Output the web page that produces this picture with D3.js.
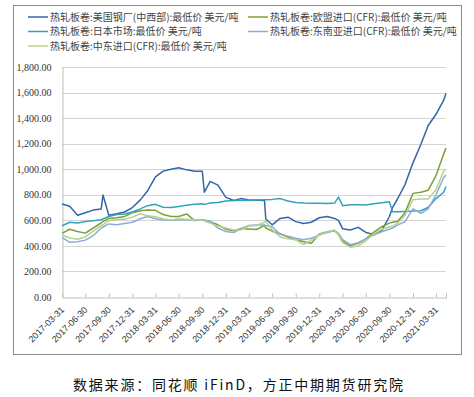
<!DOCTYPE html>
<html>
<head>
<meta charset="utf-8">
<script src="https://cdn.jsdelivr.net/npm/d3@7"></script>
<style>
  body { margin: 0; background: #fff; }
  svg { display: block; }
</style>
</head>
<body>
<svg id="chart" width="474" height="397"></svg>
<script>
// dates (month ends plus a few in-between points where the lines jump)
const dates = [
  "2017-03-31","2017-04-30","2017-05-31","2017-06-30","2017-07-31","2017-08-31","2017-09-07","2017-09-30",
  "2017-10-31","2017-11-30","2017-12-31","2018-01-31","2018-02-28","2018-03-31","2018-04-30","2018-05-31",
  "2018-06-30","2018-07-31","2018-08-31","2018-09-30","2018-10-08","2018-10-31","2018-11-30","2018-12-31",
  "2019-01-31","2019-02-28","2019-03-31","2019-04-30","2019-05-31","2019-06-05","2019-06-30","2019-07-31",
  "2019-08-31","2019-09-30","2019-10-31","2019-11-30","2019-12-31","2020-01-31","2020-02-29","2020-03-15",
  "2020-03-31","2020-04-30","2020-05-31","2020-06-30","2020-07-31","2020-08-31","2020-09-30","2020-10-12",
  "2020-10-31","2020-11-30","2020-12-31","2021-01-31","2021-02-28","2021-03-31","2021-04-30","2021-05-09"
];

const usMidwest = [
  728,710,640,660,680,688,798,640,
  652,665,700,760,830,940,985,1000,
  1012,995,985,985,820,905,875,780,
  755,770,760,758,755,610,565,615,
  625,590,575,585,620,630,615,600,
  535,525,545,505,490,520,630,700,
  765,880,1050,1195,1340,1430,1540,1595
];
const euImport = [
  498,530,512,500,540,580,590,615,
  620,630,660,675,680,678,645,630,
  630,650,598,605,600,590,565,530,
  518,537,532,528,560,540,515,495,
  470,448,433,420,493,510,517,490,
  440,400,420,455,508,550,578,585,
  590,660,811,820,835,950,1120,1165
];
const japan = [
  558,585,580,590,597,605,610,630,
  645,650,665,690,715,725,703,700,
  708,718,725,730,725,735,740,752,
  755,757,758,760,762,762,764,770,
  752,740,735,733,733,732,735,782,
  715,722,722,720,730,738,745,668,
  668,670,673,675,700,770,820,865
];
const seAsia = [
  467,428,433,445,480,540,548,572,
  565,576,585,612,630,612,603,603,
  603,603,603,603,600,592,540,512,
  505,535,560,563,563,560,550,490,
  475,460,448,460,485,505,522,498,
  450,410,425,455,485,510,530,540,
  562,590,690,655,690,800,935,955
];
const middleEast = [
  485,462,452,470,515,560,565,597,
  608,608,625,652,635,628,612,603,
  612,608,605,600,595,578,555,540,
  525,525,555,560,585,592,525,470,
  455,448,410,445,485,512,522,485,
  425,390,400,440,495,530,548,555,
  575,640,762,767,767,840,985,1000
];

const seriesNames = [
  "热轧板卷:美国钢厂(中西部):最低价 美元/吨",
  "热轧板卷:欧盟进口(CFR):最低价 美元/吨",
  "热轧板卷:日本市场:最低价 美元/吨",
  "热轧板卷:东南亚进口(CFR):最低价 美元/吨",
  "热轧板卷:中东进口(CFR):最低价 美元/吨"
];
const seriesValues = [usMidwest, euImport, japan, seAsia, middleEast];
const seriesColors = ["#3565a8", "#7aa03c", "#31a2bc", "#8eaadb", "#b4d38b"];

const tickDates = [
  "2017-03-31","2017-06-30","2017-09-30","2017-12-31","2018-03-31","2018-06-30","2018-09-30","2018-12-31",
  "2019-03-31","2019-06-30","2019-09-30","2019-12-31","2020-03-31","2020-06-30","2020-09-30","2020-12-31","2021-03-31"
];
const yTicks = [0, 200, 400, 600, 800, 1000, 1200, 1400, 1600, 1800];

const parse = d3.timeParse("%Y-%m-%d");
const svg = d3.select("#chart");

// outer frame
svg.append("rect")
  .attr("x", 13.5).attr("y", 5.5)
  .attr("width", 448).attr("height", 349)
  .attr("fill", "none").attr("stroke", "#8c8c8c");

const x = d3.scaleTime()
  .domain([parse("2017-03-31"), parse("2021-05-09")])
  .range([62, 446]);
const y = d3.scaleLinear()
  .domain([0, 1800])
  .range([297, 67]);

// grid
svg.append("g")
  .selectAll("line")
  .data(yTicks.filter(d => d > 0))
  .join("line")
  .attr("x1", 62).attr("x2", 446)
  .attr("y1", d => Math.round(y(d)) + 0.5)
  .attr("y2", d => Math.round(y(d)) + 0.5)
  .attr("stroke", "#d4d4d4");

// y axis
const yAxis = svg.append("g")
  .attr("transform", "translate(62.5,0)")
  .call(d3.axisLeft(y).tickValues(yTicks).tickFormat(d3.format(",.2f")).tickSize(0).tickPadding(11));
yAxis.select(".domain").attr("stroke", "#bfbfbf");
yAxis.selectAll("text")
  .attr("font-family", "'Liberation Serif', serif")
  .attr("font-size", 10)
  .attr("fill", "#333");

// x axis
const xAxis = svg.append("g")
  .attr("transform", "translate(0,297.5)")
  .call(d3.axisBottom(x).tickValues(tickDates.map(parse)).tickSize(-4).tickFormat(d3.timeFormat("%Y-%m-%d")));
xAxis.select(".domain").attr("stroke", "#bfbfbf");
xAxis.selectAll(".tick line").attr("stroke", "#bfbfbf");
xAxis.selectAll("text")
  .attr("font-family", "'Liberation Sans', Arial, sans-serif")
  .attr("font-size", 9)
  .attr("fill", "#333")
  .attr("text-anchor", "end")
  .attr("dy", "0.35em")
  .attr("transform", "translate(0,5) rotate(-45)")
  .attr("x", -4).attr("y", 4);

// lines
const line = d3.line()
  .x((d, i) => x(parse(dates[i])))
  .y(d => y(d));

svg.append("g")
  .selectAll("path")
  .data(seriesValues)
  .join("path")
  .attr("d", d => line(d))
  .attr("fill", "none")
  .attr("stroke", (d, i) => seriesColors[i])
  .attr("stroke-width", 1.5)
  .attr("stroke-linejoin", "round");

// legend
const legendPos = [[28, 17], [248, 17], [28, 31.5], [248, 31.5], [28, 46]];
const legend = svg.append("g")
  .selectAll("g")
  .data(seriesNames)
  .join("g")
  .attr("transform", (d, i) => `translate(${legendPos[i][0]},${legendPos[i][1]})`);
legend.append("line")
  .attr("x1", 0).attr("x2", 20)
  .attr("stroke", (d, i) => seriesColors[i])
  .attr("stroke-width", 1.5);
legend.append("text")
  .attr("x", 22).attr("dy", "0.35em")
  .attr("font-family", "'Noto Sans CJK SC', sans-serif")
  .attr("font-size", 10)
  .attr("fill", "#444")
  .text(d => d);

// source note
svg.append("text")
  .attr("x", 73).attr("y", 390)
  .attr("textLength", 330).attr("lengthAdjust", "spacing")
  .attr("font-family", "'Noto Sans CJK SC', sans-serif")
  .attr("font-size", 14)
  .attr("fill", "#111")
  .text("数据来源：同花顺 iFinD，方正中期期货研究院");
</script>
</body>
</html>
